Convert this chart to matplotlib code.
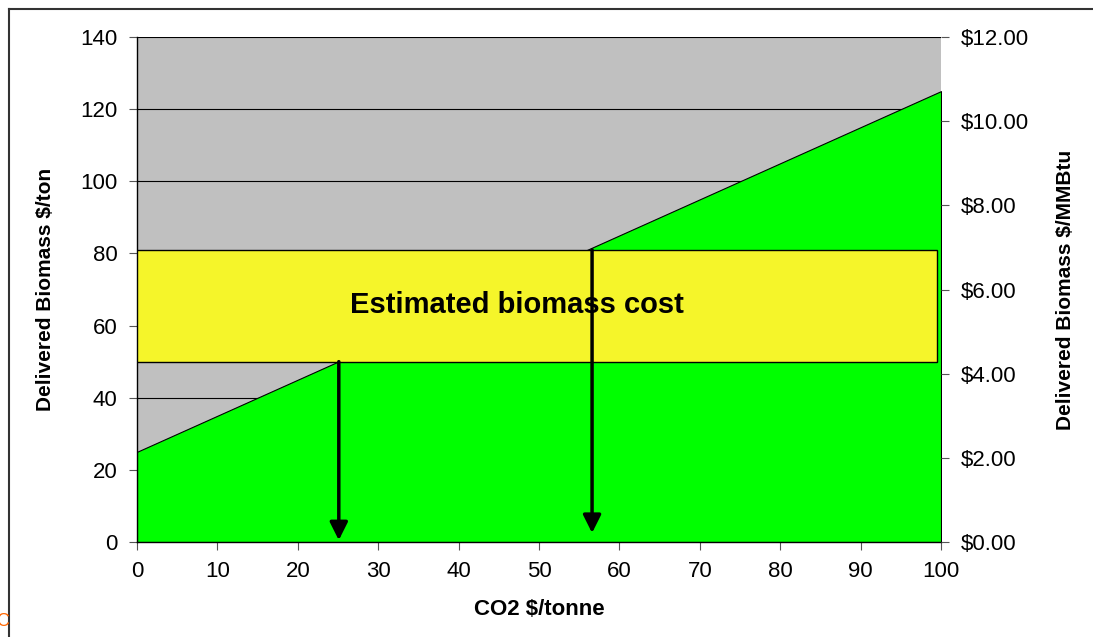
import matplotlib.pyplot as plt
import matplotlib.ticker as mticker
import numpy as np

# datos
co2 = [0, 100]
costo_biomasa = [25, 125]
banda_costo = [50, 81]
banda_x = [0, 99.5]
flechas_x = [25.1, 56.6]
flechas_y0 = [50, 81]
flechas_y1 = [0.5, 2.5]
yticks_izq = [0, 20, 40, 60, 80, 100, 120, 140]
yticks_der = [0, 2, 4, 6, 8, 10, 12]
xticks = [0, 10, 20, 30, 40, 50, 60, 70, 80, 90, 100]

plt.rcParams['font.family'] = ['Liberation Sans', 'DejaVu Sans']

fig = plt.figure(figsize=(10.93, 6.37), dpi=100)
ax = fig.add_axes([137/1093, 1-542/637, (941-137)/1093, (542-37)/637])

ax.set_facecolor('#c0c0c0')
ax.set_xlim(0, 100)
ax.set_ylim(0, 140)
for y in yticks_izq[1:]:
    ax.axhline(y, color='black', linewidth=0.8, zorder=1)

ax.fill_between(co2, costo_biomasa, 0, facecolor='#00ff00', edgecolor='black', linewidth=0.8, zorder=2)

ax.add_patch(plt.Rectangle((banda_x[0], banda_costo[0]), banda_x[1]-banda_x[0],
                           banda_costo[1]-banda_costo[0], facecolor='#f5f52a',
                           edgecolor='black', linewidth=1, zorder=3))
ax.text(47.2, 65.7, 'Estimated biomass cost', fontsize=21, fontweight='bold',
        ha='center', va='center', zorder=5)

# flechas
for x, y0, y1 in zip(flechas_x, flechas_y0, flechas_y1):
    ax.annotate('', xy=(x, y1), xytext=(x, y0),
                arrowprops=dict(arrowstyle='-|>,head_length=0.6,head_width=0.3',
                                color='black', lw=2.5,
                                mutation_scale=18, shrinkA=0, shrinkB=0),
                zorder=6)

ax.set_xticks(xticks)
ax.set_yticks(yticks_izq)
ax.tick_params(axis='both', labelsize=16, color='#555555', length=6, direction='out')
ax.tick_params(axis='x', pad=8)
ax.tick_params(axis='y', pad=8)
for s in ['top', 'right']:
    ax.spines[s].set_visible(False)
ax.spines['left'].set_linewidth(1)
ax.spines['bottom'].set_linewidth(1)

ax.set_xlabel('CO2 $/tonne', fontsize=16, fontweight='bold', labelpad=12)
ax.set_ylabel('Delivered Biomass $/ton', fontsize=15, fontweight='bold', labelpad=18)

ax2 = ax.twinx()
ax2.set_ylim(0, 12)
ax2.set_yticks(yticks_der)
ax2.yaxis.set_major_formatter(mticker.FuncFormatter(lambda v, p: f'${v:.2f}'))
ax2.tick_params(axis='y', labelsize=16, color='#555555', length=6, pad=8)
for s in ['top', 'left', 'bottom', 'right']:
    ax2.spines[s].set_visible(False)
ax2.set_ylabel('Delivered Biomass $/MMBtu', fontsize=15, fontweight='bold', labelpad=20)

# marco exterior (solo arriba e izquierda)
fig.add_artist(plt.Line2D([9/1093, 9/1093], [0, 1-9/637], color='#333333', lw=1.5, transform=fig.transFigure))
fig.add_artist(plt.Line2D([9/1093, 1], [1-9/637, 1-9/637], color='#333333', lw=1.5, transform=fig.transFigure))
fig.text(-0.004, 1-622/637, 'C', color='#ff6600', fontsize=13, va='center')

fig.savefig('out.png', dpi=100)
